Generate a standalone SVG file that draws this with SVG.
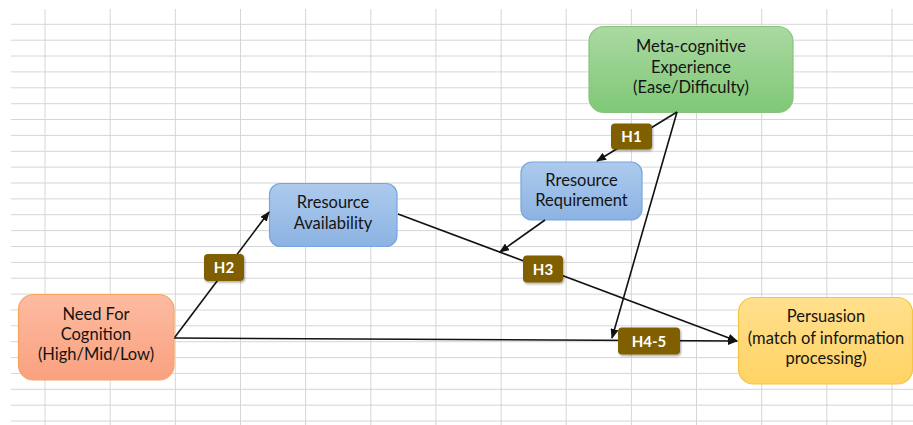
<svg xmlns="http://www.w3.org/2000/svg" width="913" height="425" viewBox="0 0 913 425">
<style>
.grid line{stroke:#d6d6d6;stroke-width:1}
.node text{font-family:Lato,"Liberation Sans",Arial,sans-serif;font-size:16.5px;fill:#141414;text-anchor:middle}
.conn path{fill:none;stroke:#111;stroke-width:1.6}
.lab rect{fill:#7f5f00;filter:url(#sh)}
.lab text{font-family:Lato,"Liberation Sans",Arial,sans-serif;font-size:15px;font-weight:bold;fill:#fff;text-anchor:middle}
</style>
<defs>
<linearGradient id="gG" x1="0" y1="0" x2="0" y2="1"><stop offset="0" stop-color="#aad9a1"/><stop offset="1" stop-color="#7fc876"/></linearGradient>
<linearGradient id="gB" x1="0" y1="0" x2="0" y2="1"><stop offset="0" stop-color="#adcaed"/><stop offset="1" stop-color="#8cb3e3"/></linearGradient>
<linearGradient id="gO" x1="0" y1="0" x2="0" y2="1"><stop offset="0" stop-color="#fdbba1"/><stop offset="1" stop-color="#f9a17f"/></linearGradient>
<linearGradient id="gY" x1="0" y1="0" x2="0" y2="1"><stop offset="0" stop-color="#ffe08e"/><stop offset="1" stop-color="#ffd364"/></linearGradient>
<filter id="sh" x="-20%" y="-20%" width="150%" height="160%"><feDropShadow dx="1" dy="1.5" stdDeviation="1.2" flood-color="#000" flood-opacity="0.35"/></filter>
<marker id="ah" markerWidth="10" markerHeight="8" refX="9" refY="4" orient="auto" markerUnits="userSpaceOnUse"><path d="M0,0 L10,4 L0,8 z" fill="#111"/></marker>
</defs>
<rect width="913" height="425" fill="#fff"/>
<g class="grid">
<line x1="45" y1="9" x2="45" y2="425"/><line x1="110.2" y1="9" x2="110.2" y2="425"/><line x1="175.3" y1="9" x2="175.3" y2="425"/><line x1="240.5" y1="9" x2="240.5" y2="425"/><line x1="305.6" y1="9" x2="305.6" y2="425"/><line x1="370.8" y1="9" x2="370.8" y2="425"/><line x1="435.9" y1="9" x2="435.9" y2="425"/><line x1="501.1" y1="9" x2="501.1" y2="425"/><line x1="566.2" y1="9" x2="566.2" y2="425"/><line x1="631.4" y1="9" x2="631.4" y2="425"/><line x1="696.5" y1="9" x2="696.5" y2="425"/><line x1="761.7" y1="9" x2="761.7" y2="425"/><line x1="826.8" y1="9" x2="826.8" y2="425"/><line x1="892" y1="9" x2="892" y2="425"/>
<line x1="11" y1="24.3" x2="913" y2="24.3"/><line x1="11" y1="40.2" x2="913" y2="40.2"/><line x1="11" y1="56" x2="913" y2="56"/><line x1="11" y1="71.9" x2="913" y2="71.9"/><line x1="11" y1="87.8" x2="913" y2="87.8"/><line x1="11" y1="103.7" x2="913" y2="103.7"/><line x1="11" y1="119.5" x2="913" y2="119.5"/><line x1="11" y1="135.4" x2="913" y2="135.4"/><line x1="11" y1="151.3" x2="913" y2="151.3"/><line x1="11" y1="167.1" x2="913" y2="167.1"/><line x1="11" y1="183" x2="913" y2="183"/><line x1="11" y1="198.9" x2="913" y2="198.9"/><line x1="11" y1="214.7" x2="913" y2="214.7"/><line x1="11" y1="230.6" x2="913" y2="230.6"/><line x1="11" y1="246.5" x2="913" y2="246.5"/><line x1="11" y1="262.4" x2="913" y2="262.4"/><line x1="11" y1="278.2" x2="913" y2="278.2"/><line x1="11" y1="294.1" x2="913" y2="294.1"/><line x1="11" y1="310" x2="913" y2="310"/><line x1="11" y1="325.8" x2="913" y2="325.8"/><line x1="11" y1="341.7" x2="913" y2="341.7"/><line x1="11" y1="357.6" x2="913" y2="357.6"/><line x1="11" y1="373.4" x2="913" y2="373.4"/><line x1="11" y1="389.3" x2="913" y2="389.3"/><line x1="11" y1="405.2" x2="913" y2="405.2"/><line x1="11" y1="421" x2="913" y2="421"/>
</g>
<g id="meta" class="node">
<rect x="589" y="26.5" width="204" height="86" rx="15" fill="url(#gG)" stroke="#86c47c" stroke-width="1.2"/>
<text x="691" y="51.5">Meta-cognitive</text>
<text x="691" y="72.5">Experience</text>
<text x="691" y="93">(Ease/Difficulty)</text>
</g>
<g id="requirement" class="node">
<rect x="521" y="162" width="121" height="58" rx="11" fill="url(#gB)" stroke="#76a6de" stroke-width="1.2"/>
<text x="581.5" y="185.5">Rresource</text>
<text x="581.5" y="205.5">Requirement</text>
</g>
<g id="availability" class="node">
<rect x="269.5" y="183.5" width="127.5" height="63" rx="11" fill="url(#gB)" stroke="#76a6de" stroke-width="1.2"/>
<text x="333" y="208">Rresource</text>
<text x="333" y="229">Availability</text>
</g>
<g id="nfc" class="node">
<rect x="18.5" y="294.5" width="155.5" height="85.5" rx="15" fill="url(#gO)" stroke="#f7a45e" stroke-width="1.2"/>
<text x="96" y="320">Need For</text>
<text x="96" y="340">Cognition</text>
<text x="96" y="360">(High/Mid/Low)</text>
</g>
<g id="persuasion" class="node">
<rect x="738.5" y="297.5" width="174" height="86.5" rx="15" fill="url(#gY)" stroke="#f5c443" stroke-width="1.2"/>
<text x="826" y="322">Persuasion</text>
<text x="826" y="344">(match of information</text>
<text x="826" y="364">processing)</text>
</g>
<g id="connectors" class="conn">
<path d="M677,112 L597,161" marker-end="url(#ah)"/>
<path d="M677,112 L612,338" marker-end="url(#ah)"/>
<path d="M175,337 L269,212" marker-end="url(#ah)"/>
<path d="M174,338 L737,341" marker-end="url(#ah)"/>
<path d="M398,214 L737,341" marker-end="url(#ah)"/>
<path d="M545,220 L500,252" marker-end="url(#ah)"/>
</g>
<g id="labels" class="lab">
<g id="h1"><rect x="611" y="123.5" width="41" height="26" rx="4"/><text x="631.5" y="142">H1</text></g>
<g id="h2"><rect x="204" y="254" width="40" height="27" rx="4"/><text x="224" y="273">H2</text></g>
<g id="h3"><rect x="523" y="255.5" width="40" height="27" rx="4"/><text x="543" y="274.5">H3</text></g>
<g id="h45"><rect x="618" y="327.5" width="62" height="27" rx="4"/><text x="649" y="346.5">H4-5</text></g>
</g>
</svg>
